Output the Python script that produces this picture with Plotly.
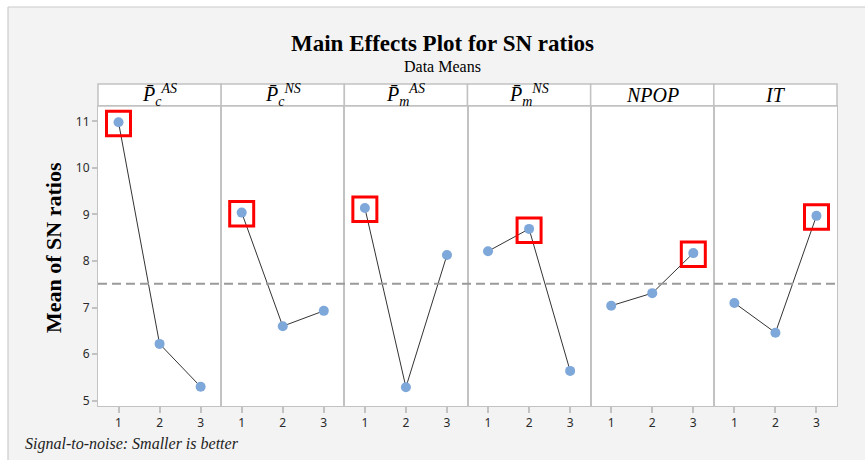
import plotly.graph_objects as go
import numpy as np

# ---------------- data ----------------
factor_labels = [
    "<i>P̄</i><sub><i>c</i></sub><sup><i>AS</i></sup>",
    "<i>P̄</i><sub><i>c</i></sub><sup><i>NS</i></sup>",
    "<i>P̄</i><sub><i>m</i></sub><sup><i>AS</i></sup>",
    "<i>P̄</i><sub><i>m</i></sub><sup><i>NS</i></sup>",
    "<i>NPOP</i>",
    "<i>IT</i>",
]
levels = [1, 2, 3]
pc_as = [10.98, 6.22, 5.30]
pc_ns = [9.04, 6.60, 6.93]
pm_as = [9.14, 5.29, 8.13]
pm_ns = [8.21, 8.69, 5.64]
npop = [7.04, 7.31, 8.17]
it_vals = [7.10, 6.46, 8.97]
series = [pc_as, pc_ns, pm_as, pm_ns, npop, it_vals]
y_ticks = [5, 6, 7, 8, 9, 10, 11]

# ---------------- layout geometry (pixels) ----------------
W, H = 865, 460
L, R, T, B = 98, 837, 84, 406          # plot box incl. header strip
HEADER_BOTTOM = 106
pw, ph = R - L, B - T
def px(p):  # pixel x -> paper
    return (p - L) / pw
def py(p):  # pixel y -> paper
    return (B - p) / ph
ytop = py(HEADER_BOTTOM)

grand_mean = float(np.mean(np.concatenate([np.array(s) for s in series])))

fig = go.Figure()
n = len(series)
shapes = []
annotations = []
frame_col = "#c2c2c2"
tick_font = dict(family="Noto Sans", size=12, color="#2a2a2a")
for i, vals in enumerate(series):
    xa = "x" if i == 0 else f"x{i+1}"
    ya = "y" if i == 0 else f"y{i+1}"
    fig.add_trace(go.Scatter(
        x=levels, y=vals, mode="lines+markers", xaxis=xa, yaxis=ya,
        line=dict(color="#333333", width=1),
        marker=dict(color="#7ea7da", size=10),
        showlegend=False, hoverinfo="x+y"))
    d0, d1 = i / n, (i + 1) / n
    fig.layout[f"xaxis{'' if i == 0 else i+1}"] = dict(
        domain=[d0, d1], range=[0.5, 3.5], tickvals=levels,
        ticks="outside", ticklen=6, tickcolor=frame_col, tickwidth=1.5,
        showline=True, mirror=True, linecolor=frame_col, linewidth=1,
        showgrid=False, zeroline=False, anchor=ya,
        tickfont=tick_font, fixedrange=True)
    yax = dict(
        domain=[0, ytop], range=[4.886, 11.33], anchor=xa,
        showline=True, mirror=True, linecolor=frame_col, linewidth=1,
        showgrid=False, zeroline=False, fixedrange=True)
    if i == 0:
        yax.update(tickvals=y_ticks, ticks="outside", ticklen=5,
                   tickcolor=frame_col, tickwidth=1.5, tickfont=tick_font)
    else:
        yax.update(matches="y", showticklabels=False, ticks="")
    fig.layout[f"yaxis{'' if i == 0 else i+1}"] = yax

    # header strip cell
    shapes.append(dict(type="rect", xref="paper", yref="paper",
                       x0=d0, x1=d1, y0=ytop, y1=1,
                       fillcolor="white", line=dict(color=frame_col, width=1.5),
                       layer="below"))
    annotations.append(dict(text=factor_labels[i], xref="paper", yref="paper",
                            x=(d0 + d1) / 2, y=(ytop + 1) / 2, showarrow=False,
                            xanchor="center", yanchor="middle",
                            font=dict(family="Liberation Serif", size=20, color="black")))
    # red box around the best (largest) level
    k = int(np.argmax(vals))
    shapes.append(dict(type="rect", xref=xa, yref=ya,
                       xsizemode="pixel", ysizemode="pixel",
                       xanchor=levels[k], yanchor=vals[k],
                       x0=-12, x1=12, y0=-13.5, y1=11,
                       line=dict(color="#ff0000", width=3),
                       fillcolor="rgba(0,0,0,0)", layer="above"))

# grand mean reference line
shapes.append(dict(type="line", xref="paper", yref="y", x0=0, x1=1,
                   y0=grand_mean, y1=grand_mean,
                   line=dict(color="#9a9a9a", width=2, dash="9px,5px"),
                   layer="above"))

# outer white border (page) and frame of gray panel
shapes.append(dict(type="rect", xref="paper", yref="paper",
                   x0=px(-5), x1=px(8), y0=py(H + 5), y1=py(-5),
                   fillcolor="white", line=dict(width=0), layer="below"))
shapes.append(dict(type="rect", xref="paper", yref="paper",
                   x0=px(-5), x1=px(W + 5), y0=py(7), y1=py(-5),
                   fillcolor="white", line=dict(width=0), layer="below"))
shapes.append(dict(type="line", xref="paper", yref="paper",
                   x0=px(8), x1=px(8), y0=py(7), y1=py(H + 5),
                   line=dict(color="#cccccc", width=1.2)))
shapes.append(dict(type="line", xref="paper", yref="paper",
                   x0=px(8), x1=px(W + 5), y0=py(7), y1=py(7),
                   line=dict(color="#cccccc", width=1.2)))

# titles and labels
annotations += [
    dict(text="<b>Main Effects Plot for SN ratios</b>", xref="paper", yref="paper",
         x=px(442), y=py(43), showarrow=False, xanchor="center", yanchor="middle",
         font=dict(family="Liberation Serif", size=23, color="black")),
    dict(text="Data Means", xref="paper", yref="paper",
         x=px(442), y=py(66), showarrow=False, xanchor="center", yanchor="middle",
         font=dict(family="Liberation Serif", size=16, color="black")),
    dict(text="<b>Mean of SN ratios</b>", xref="paper", yref="paper",
         x=px(53), y=py(248), showarrow=False, textangle=-90,
         xanchor="center", yanchor="middle",
         font=dict(family="Liberation Serif", size=22, color="black")),
    dict(text="<i>Signal-to-noise: Smaller is better</i>", xref="paper", yref="paper",
         x=px(23), y=py(444), showarrow=False, xanchor="left", yanchor="middle",
         font=dict(family="Liberation Serif", size=16, color="#222222")),
]

fig.update_layout(
    width=W, height=H,
    margin=dict(l=L, r=W - R, t=T, b=H - B, pad=0),
    paper_bgcolor="#f3f3f3", plot_bgcolor="white",
    shapes=shapes, annotations=annotations, showlegend=False,
)
fig.write_html("out.html", config={"displayModeBar": False},
               post_script="document.body.style.margin='0';document.body.style.overflow='hidden';")
